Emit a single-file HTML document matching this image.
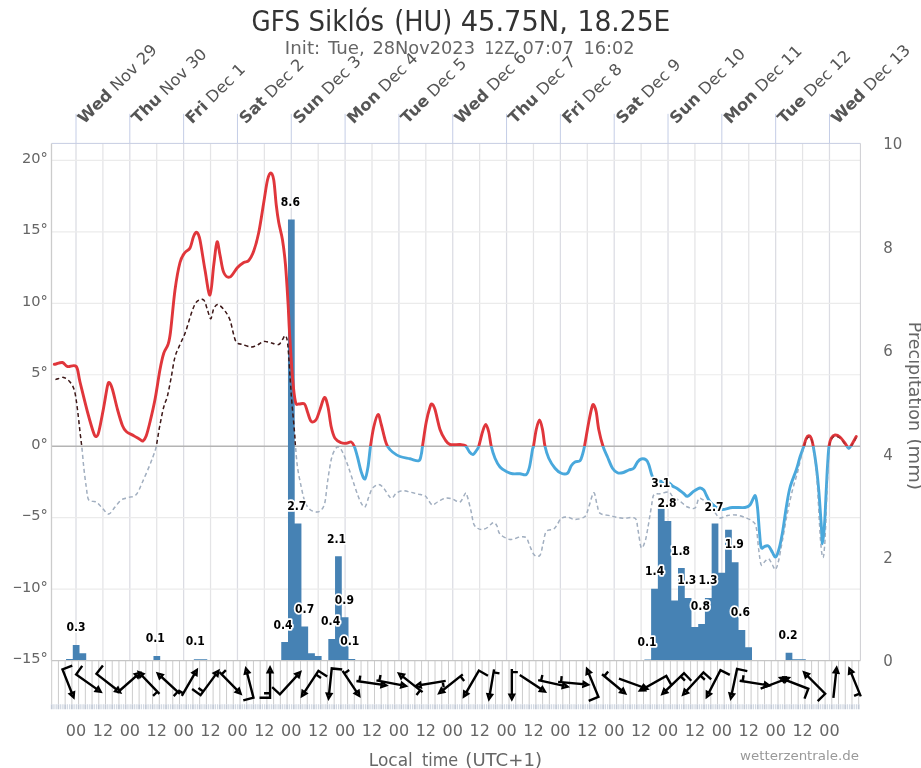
<!DOCTYPE html>
<html lang="en"><head><meta charset="utf-8"><title>GFS Siklós (HU) 45.75N, 18.25E</title>
<style>html,body{margin:0;padding:0;background:#fff}svg{display:block;will-change:transform;font-family:"DejaVu Sans","Liberation Sans",sans-serif}</style>
</head><body>
<svg width="921" height="768" viewBox="0 0 921 768">
<rect width="921" height="768" fill="#ffffff"/>
<defs>
<clipPath id="cpos"><rect x="51.5" y="143.4" width="808.9" height="302.8"/></clipPath>
<clipPath id="cneg"><rect x="51.5" y="446.2" width="808.9" height="214.4"/></clipPath>
<clipPath id="cplot"><rect x="51.5" y="143.4" width="808.9" height="517.2"/></clipPath>
</defs>
<g fill="none"><path d="M76 143.4V660.6" stroke="#dbdce3" stroke-width="1.25"/><path d="M102.91 143.4V660.6" stroke="#e4e4e6" stroke-width="1.25"/><path d="M129.82 143.4V660.6" stroke="#dbdce3" stroke-width="1.25"/><path d="M156.73 143.4V660.6" stroke="#e4e4e6" stroke-width="1.25"/><path d="M183.64 143.4V660.6" stroke="#dbdce3" stroke-width="1.25"/><path d="M210.55 143.4V660.6" stroke="#e4e4e6" stroke-width="1.25"/><path d="M237.46 143.4V660.6" stroke="#dbdce3" stroke-width="1.25"/><path d="M264.37 143.4V660.6" stroke="#e4e4e6" stroke-width="1.25"/><path d="M291.28 143.4V660.6" stroke="#dbdce3" stroke-width="1.25"/><path d="M318.19 143.4V660.6" stroke="#e4e4e6" stroke-width="1.25"/><path d="M345.1 143.4V660.6" stroke="#dbdce3" stroke-width="1.25"/><path d="M372.01 143.4V660.6" stroke="#e4e4e6" stroke-width="1.25"/><path d="M398.92 143.4V660.6" stroke="#dbdce3" stroke-width="1.25"/><path d="M425.83 143.4V660.6" stroke="#e4e4e6" stroke-width="1.25"/><path d="M452.74 143.4V660.6" stroke="#dbdce3" stroke-width="1.25"/><path d="M479.65 143.4V660.6" stroke="#e4e4e6" stroke-width="1.25"/><path d="M506.56 143.4V660.6" stroke="#dbdce3" stroke-width="1.25"/><path d="M533.47 143.4V660.6" stroke="#e4e4e6" stroke-width="1.25"/><path d="M560.38 143.4V660.6" stroke="#dbdce3" stroke-width="1.25"/><path d="M587.29 143.4V660.6" stroke="#e4e4e6" stroke-width="1.25"/><path d="M614.2 143.4V660.6" stroke="#dbdce3" stroke-width="1.25"/><path d="M641.11 143.4V660.6" stroke="#e4e4e6" stroke-width="1.25"/><path d="M668.02 143.4V660.6" stroke="#dbdce3" stroke-width="1.25"/><path d="M694.93 143.4V660.6" stroke="#e4e4e6" stroke-width="1.25"/><path d="M721.84 143.4V660.6" stroke="#dbdce3" stroke-width="1.25"/><path d="M748.75 143.4V660.6" stroke="#e4e4e6" stroke-width="1.25"/><path d="M775.66 143.4V660.6" stroke="#dbdce3" stroke-width="1.25"/><path d="M802.57 143.4V660.6" stroke="#e4e4e6" stroke-width="1.25"/><path d="M829.48 143.4V660.6" stroke="#dbdce3" stroke-width="1.25"/><path d="M51.5 160.4H860.4" stroke="#ebebeb" stroke-width="1.2"/><path d="M51.5 231.85H860.4" stroke="#ebebeb" stroke-width="1.2"/><path d="M51.5 303.3H860.4" stroke="#ebebeb" stroke-width="1.2"/><path d="M51.5 374.75H860.4" stroke="#ebebeb" stroke-width="1.2"/><path d="M51.5 517.65H860.4" stroke="#ebebeb" stroke-width="1.2"/><path d="M51.5 589.1H860.4" stroke="#ebebeb" stroke-width="1.2"/></g>
<path d="M51.5 446.2H860.4" stroke="#b4b4b4" stroke-width="1.6" fill="none"/>
<path d="M76 113.8V143.4M129.82 113.8V143.4M183.64 113.8V143.4M237.46 113.8V143.4M291.28 113.8V143.4M345.1 113.8V143.4M398.92 113.8V143.4M452.74 113.8V143.4M506.56 113.8V143.4M560.38 113.8V143.4M614.2 113.8V143.4M668.02 113.8V143.4M721.84 113.8V143.4M775.66 113.8V143.4M829.48 113.8V143.4" stroke="#c4cde6" stroke-width="1" fill="none"/>
<path d="M51.5 143.4H860.4" stroke="#c6cde2" stroke-width="1" fill="none"/>
<path d="M860.4 143.4V660.6" stroke="#cdcdd2" stroke-width="1" fill="none"/>
<path d="M51.7 660.6V704M58.43 660.6V704M65.15 660.6V704M71.88 660.6V704M78.6 660.6V704M85.33 660.6V704M92.05 660.6V704M98.78 660.6V704M105.5 660.6V704M112.22 660.6V704M118.95 660.6V704M125.67 660.6V704M132.4 660.6V704M139.12 660.6V704M145.85 660.6V704M152.57 660.6V704M159.3 660.6V704M166.03 660.6V704M172.75 660.6V704M179.48 660.6V704M186.2 660.6V704M192.93 660.6V704M199.65 660.6V704M206.38 660.6V704M213.1 660.6V704M219.82 660.6V704M226.55 660.6V704M233.27 660.6V704M240 660.6V704M246.73 660.6V704M253.45 660.6V704M260.18 660.6V704M266.9 660.6V704M273.62 660.6V704M280.35 660.6V704M287.07 660.6V704M293.8 660.6V704M300.53 660.6V704M307.25 660.6V704M313.97 660.6V704M320.7 660.6V704M327.43 660.6V704M334.15 660.6V704M340.88 660.6V704M347.6 660.6V704M354.32 660.6V704M361.05 660.6V704M367.77 660.6V704M374.5 660.6V704M381.22 660.6V704M387.95 660.6V704M394.68 660.6V704M401.4 660.6V704M408.12 660.6V704M414.85 660.6V704M421.57 660.6V704M428.3 660.6V704M435.02 660.6V704M441.75 660.6V704M448.47 660.6V704M455.2 660.6V704M461.93 660.6V704M468.65 660.6V704M475.38 660.6V704M482.1 660.6V704M488.82 660.6V704M495.55 660.6V704M502.27 660.6V704M509 660.6V704M515.73 660.6V704M522.45 660.6V704M529.18 660.6V704M535.9 660.6V704M542.62 660.6V704M549.35 660.6V704M556.08 660.6V704M562.8 660.6V704M569.53 660.6V704M576.25 660.6V704M582.98 660.6V704M589.7 660.6V704M596.43 660.6V704M603.15 660.6V704M609.88 660.6V704M616.6 660.6V704M623.33 660.6V704M630.05 660.6V704M636.78 660.6V704M643.5 660.6V704M650.23 660.6V704M656.95 660.6V704M663.68 660.6V704M670.4 660.6V704M677.12 660.6V704M683.85 660.6V704M690.58 660.6V704M697.3 660.6V704M704.03 660.6V704M710.75 660.6V704M717.48 660.6V704M724.2 660.6V704M730.93 660.6V704M737.65 660.6V704M744.38 660.6V704M751.1 660.6V704M757.83 660.6V704M764.55 660.6V704M771.28 660.6V704M778 660.6V704M784.73 660.6V704M791.45 660.6V704M798.18 660.6V704M804.9 660.6V704M811.62 660.6V704M818.35 660.6V704M825.08 660.6V704M831.8 660.6V704M838.53 660.6V704M845.25 660.6V704M851.98 660.6V704M858.7 660.6V704" stroke="#cccccc" stroke-width="1" fill="none"/>
<path d="M53.94 704.2V709.2M56.18 704.2V709.2M60.67 704.2V709.2M62.91 704.2V709.2M67.39 704.2V709.2M69.63 704.2V709.2M74.12 704.2V709.2M76.36 704.2V709.2M80.84 704.2V709.2M83.08 704.2V709.2M87.57 704.2V709.2M89.81 704.2V709.2M94.29 704.2V709.2M96.53 704.2V709.2M101.02 704.2V709.2M103.26 704.2V709.2M107.74 704.2V709.2M109.98 704.2V709.2M114.47 704.2V709.2M116.71 704.2V709.2M121.19 704.2V709.2M123.43 704.2V709.2M127.92 704.2V709.2M130.16 704.2V709.2M134.64 704.2V709.2M136.88 704.2V709.2M141.37 704.2V709.2M143.61 704.2V709.2M148.09 704.2V709.2M150.33 704.2V709.2M154.82 704.2V709.2M157.06 704.2V709.2M161.54 704.2V709.2M163.78 704.2V709.2M168.27 704.2V709.2M170.51 704.2V709.2M174.99 704.2V709.2M177.23 704.2V709.2M181.72 704.2V709.2M183.96 704.2V709.2M188.44 704.2V709.2M190.68 704.2V709.2M195.17 704.2V709.2M197.41 704.2V709.2M201.89 704.2V709.2M204.13 704.2V709.2M208.62 704.2V709.2M210.86 704.2V709.2M215.34 704.2V709.2M217.58 704.2V709.2M222.07 704.2V709.2M224.31 704.2V709.2M228.79 704.2V709.2M231.03 704.2V709.2M235.52 704.2V709.2M237.76 704.2V709.2M242.24 704.2V709.2M244.48 704.2V709.2M248.97 704.2V709.2M251.21 704.2V709.2M255.69 704.2V709.2M257.93 704.2V709.2M262.42 704.2V709.2M264.66 704.2V709.2M269.14 704.2V709.2M271.38 704.2V709.2M275.87 704.2V709.2M278.11 704.2V709.2M282.59 704.2V709.2M284.83 704.2V709.2M289.32 704.2V709.2M291.56 704.2V709.2M296.04 704.2V709.2M298.28 704.2V709.2M302.77 704.2V709.2M305.01 704.2V709.2M309.49 704.2V709.2M311.73 704.2V709.2M316.22 704.2V709.2M318.46 704.2V709.2M322.94 704.2V709.2M325.18 704.2V709.2M329.67 704.2V709.2M331.91 704.2V709.2M336.39 704.2V709.2M338.63 704.2V709.2M343.12 704.2V709.2M345.36 704.2V709.2M349.84 704.2V709.2M352.08 704.2V709.2M356.57 704.2V709.2M358.81 704.2V709.2M363.29 704.2V709.2M365.53 704.2V709.2M370.02 704.2V709.2M372.26 704.2V709.2M376.74 704.2V709.2M378.98 704.2V709.2M383.47 704.2V709.2M385.71 704.2V709.2M390.19 704.2V709.2M392.43 704.2V709.2M396.92 704.2V709.2M399.16 704.2V709.2M403.64 704.2V709.2M405.88 704.2V709.2M410.37 704.2V709.2M412.61 704.2V709.2M417.09 704.2V709.2M419.33 704.2V709.2M423.82 704.2V709.2M426.06 704.2V709.2M430.54 704.2V709.2M432.78 704.2V709.2M437.27 704.2V709.2M439.51 704.2V709.2M443.99 704.2V709.2M446.23 704.2V709.2M450.72 704.2V709.2M452.96 704.2V709.2M457.44 704.2V709.2M459.68 704.2V709.2M464.17 704.2V709.2M466.41 704.2V709.2M470.89 704.2V709.2M473.13 704.2V709.2M477.62 704.2V709.2M479.86 704.2V709.2M484.34 704.2V709.2M486.58 704.2V709.2M491.07 704.2V709.2M493.31 704.2V709.2M497.79 704.2V709.2M500.03 704.2V709.2M504.52 704.2V709.2M506.76 704.2V709.2M511.24 704.2V709.2M513.48 704.2V709.2M517.97 704.2V709.2M520.21 704.2V709.2M524.69 704.2V709.2M526.93 704.2V709.2M531.42 704.2V709.2M533.66 704.2V709.2M538.14 704.2V709.2M540.38 704.2V709.2M544.87 704.2V709.2M547.11 704.2V709.2M551.59 704.2V709.2M553.83 704.2V709.2M558.32 704.2V709.2M560.56 704.2V709.2M565.04 704.2V709.2M567.28 704.2V709.2M571.77 704.2V709.2M574.01 704.2V709.2M578.49 704.2V709.2M580.73 704.2V709.2M585.22 704.2V709.2M587.46 704.2V709.2M591.94 704.2V709.2M594.18 704.2V709.2M598.67 704.2V709.2M600.91 704.2V709.2M605.39 704.2V709.2M607.63 704.2V709.2M612.12 704.2V709.2M614.36 704.2V709.2M618.84 704.2V709.2M621.08 704.2V709.2M625.57 704.2V709.2M627.81 704.2V709.2M632.29 704.2V709.2M634.53 704.2V709.2M639.02 704.2V709.2M641.26 704.2V709.2M645.74 704.2V709.2M647.98 704.2V709.2M652.47 704.2V709.2M654.71 704.2V709.2M659.19 704.2V709.2M661.43 704.2V709.2M665.92 704.2V709.2M668.16 704.2V709.2M672.64 704.2V709.2M674.88 704.2V709.2M679.37 704.2V709.2M681.61 704.2V709.2M686.09 704.2V709.2M688.33 704.2V709.2M692.82 704.2V709.2M695.06 704.2V709.2M699.54 704.2V709.2M701.78 704.2V709.2M706.27 704.2V709.2M708.51 704.2V709.2M712.99 704.2V709.2M715.23 704.2V709.2M719.72 704.2V709.2M721.96 704.2V709.2M726.44 704.2V709.2M728.68 704.2V709.2M733.17 704.2V709.2M735.41 704.2V709.2M739.89 704.2V709.2M742.13 704.2V709.2M746.62 704.2V709.2M748.86 704.2V709.2M753.34 704.2V709.2M755.58 704.2V709.2M760.07 704.2V709.2M762.31 704.2V709.2M766.79 704.2V709.2M769.03 704.2V709.2M773.52 704.2V709.2M775.76 704.2V709.2M780.24 704.2V709.2M782.48 704.2V709.2M786.97 704.2V709.2M789.21 704.2V709.2M793.69 704.2V709.2M795.93 704.2V709.2M800.42 704.2V709.2M802.66 704.2V709.2M807.14 704.2V709.2M809.38 704.2V709.2M813.87 704.2V709.2M816.11 704.2V709.2M820.59 704.2V709.2M822.83 704.2V709.2M827.32 704.2V709.2M829.56 704.2V709.2M834.04 704.2V709.2M836.28 704.2V709.2M840.77 704.2V709.2M843.01 704.2V709.2M847.49 704.2V709.2M849.73 704.2V709.2M854.22 704.2V709.2M856.46 704.2V709.2" stroke="#d2d9e3" stroke-width="1.3" fill="none"/>
<path d="M51.7 704.2V709.2M58.43 704.2V709.2M65.15 704.2V709.2M71.88 704.2V709.2M78.6 704.2V709.2M85.33 704.2V709.2M92.05 704.2V709.2M98.78 704.2V709.2M105.5 704.2V709.2M112.22 704.2V709.2M118.95 704.2V709.2M125.67 704.2V709.2M132.4 704.2V709.2M139.12 704.2V709.2M145.85 704.2V709.2M152.57 704.2V709.2M159.3 704.2V709.2M166.03 704.2V709.2M172.75 704.2V709.2M179.48 704.2V709.2M186.2 704.2V709.2M192.93 704.2V709.2M199.65 704.2V709.2M206.38 704.2V709.2M213.1 704.2V709.2M219.82 704.2V709.2M226.55 704.2V709.2M233.27 704.2V709.2M240 704.2V709.2M246.73 704.2V709.2M253.45 704.2V709.2M260.18 704.2V709.2M266.9 704.2V709.2M273.62 704.2V709.2M280.35 704.2V709.2M287.07 704.2V709.2M293.8 704.2V709.2M300.53 704.2V709.2M307.25 704.2V709.2M313.97 704.2V709.2M320.7 704.2V709.2M327.43 704.2V709.2M334.15 704.2V709.2M340.88 704.2V709.2M347.6 704.2V709.2M354.32 704.2V709.2M361.05 704.2V709.2M367.77 704.2V709.2M374.5 704.2V709.2M381.22 704.2V709.2M387.95 704.2V709.2M394.68 704.2V709.2M401.4 704.2V709.2M408.12 704.2V709.2M414.85 704.2V709.2M421.57 704.2V709.2M428.3 704.2V709.2M435.02 704.2V709.2M441.75 704.2V709.2M448.47 704.2V709.2M455.2 704.2V709.2M461.93 704.2V709.2M468.65 704.2V709.2M475.38 704.2V709.2M482.1 704.2V709.2M488.82 704.2V709.2M495.55 704.2V709.2M502.27 704.2V709.2M509 704.2V709.2M515.73 704.2V709.2M522.45 704.2V709.2M529.18 704.2V709.2M535.9 704.2V709.2M542.62 704.2V709.2M549.35 704.2V709.2M556.08 704.2V709.2M562.8 704.2V709.2M569.53 704.2V709.2M576.25 704.2V709.2M582.98 704.2V709.2M589.7 704.2V709.2M596.43 704.2V709.2M603.15 704.2V709.2M609.88 704.2V709.2M616.6 704.2V709.2M623.33 704.2V709.2M630.05 704.2V709.2M636.78 704.2V709.2M643.5 704.2V709.2M650.23 704.2V709.2M656.95 704.2V709.2M663.68 704.2V709.2M670.4 704.2V709.2M677.12 704.2V709.2M683.85 704.2V709.2M690.58 704.2V709.2M697.3 704.2V709.2M704.03 704.2V709.2M710.75 704.2V709.2M717.48 704.2V709.2M724.2 704.2V709.2M730.93 704.2V709.2M737.65 704.2V709.2M744.38 704.2V709.2M751.1 704.2V709.2M757.83 704.2V709.2M764.55 704.2V709.2M771.28 704.2V709.2M778 704.2V709.2M784.73 704.2V709.2M791.45 704.2V709.2M798.18 704.2V709.2M804.9 704.2V709.2M811.62 704.2V709.2M818.35 704.2V709.2M825.08 704.2V709.2M831.8 704.2V709.2M838.53 704.2V709.2M845.25 704.2V709.2M851.98 704.2V709.2M858.7 704.2V709.2" stroke="#c3cad6" stroke-width="1.7" fill="none"/>
<path d="M66.05 660.6H72.78V659.05H66.05ZM72.78 660.6H79.5V645.08H72.78ZM79.5 660.6H86.22V653.36H79.5ZM153.47 660.6H160.2V655.95H153.47ZM193.82 660.6H200.55V659.31H193.82ZM200.55 660.6H207.27V659.31H200.55ZM281.25 660.6H287.98V641.98H281.25ZM287.98 660.6H294.7V219.43H287.98ZM294.7 660.6H301.43V523.54H294.7ZM301.43 660.6H308.15V626.46H301.43ZM308.15 660.6H314.88V653.36H308.15ZM314.88 660.6H321.6V655.95H314.88ZM328.32 660.6H335.05V638.88H328.32ZM335.05 660.6H341.78V556.13H335.05ZM341.78 660.6H348.5V617.16H341.78ZM348.5 660.6H355.23V659.05H348.5ZM644.4 660.6H651.12V659.57H644.4ZM651.12 660.6H657.85V588.71H651.12ZM657.85 660.6H664.58V508.54H657.85ZM664.58 660.6H671.3V520.96H664.58ZM671.3 660.6H678.02V600.6H671.3ZM678.02 660.6H684.75V568.02H678.02ZM684.75 660.6H691.48V598.02H684.75ZM691.48 660.6H698.2V626.98H691.48ZM698.2 660.6H704.92V623.88H698.2ZM704.92 660.6H711.65V598.02H704.92ZM711.65 660.6H718.38V523.54H711.65ZM718.38 660.6H725.1V572.68H718.38ZM725.1 660.6H731.82V529.75H725.1ZM731.82 660.6H738.55V562.33H731.82ZM738.55 660.6H745.27V630.09H738.55ZM745.27 660.6H752V647.15H745.27ZM785.62 660.6H792.35V652.84H785.62ZM792.35 660.6H799.07V659.31H792.35ZM799.07 660.6H805.8V659.31H799.07Z" fill="#4682b4"/>
<path d="M51.5 143.4V660.6" stroke="#cccccc" stroke-width="1.3" fill="none"/>
<path d="M51.5 660.6H860.4" stroke="#c6c6c6" stroke-width="1.4" fill="none"/>
<g fill="none" stroke-width="1.4" stroke-dasharray="4,3">
<path d="M55.5 379.6C55.92 379.47 56.62 379.15 58 378.8C59.38 378.45 61.75 376.97 63.75 377.5C65.75 378.03 68.21 379.79 70 382C71.79 384.21 73.25 386.17 74.5 390.75C75.75 395.33 76.58 402.62 77.5 409.5C78.42 416.38 79.29 425.88 80 432C80.71 438.12 81.12 440.42 81.75 446.25C82.38 452.08 83 460.21 83.75 467C84.5 473.79 85.42 481.5 86.25 487C87.08 492.5 87.08 497.5 88.75 500C90.42 502.5 93.96 500.62 96.25 502C98.54 503.38 100.42 506.25 102.5 508.25C104.58 510.25 106.67 514.21 108.75 514C110.83 513.79 112.92 509.33 115 507C117.08 504.67 118.96 501.58 121.25 500C123.54 498.42 126.25 498.42 128.75 497.5C131.25 496.58 133.96 497.08 136.25 494.5C138.54 491.92 140.21 487 142.5 482C144.79 477 148.12 469.08 150 464.5C151.88 459.92 152.71 457.54 153.75 454.5C154.79 451.46 155.21 451.25 156.25 446.25C157.29 441.25 158.75 431.04 160 424.5C161.25 417.96 162.5 411.79 163.75 407C165 402.21 166.25 400.75 167.5 395.75C168.75 390.75 170 383.46 171.25 377C172.5 370.54 173.54 362.42 175 357C176.46 351.58 178.25 348.67 180 344.5C181.75 340.33 183.42 337.75 185.5 332C187.58 326.25 190.5 315.17 192.5 310C194.5 304.83 195.62 302.67 197.5 301C199.38 299.33 202.08 298.5 203.75 300C205.42 301.5 206.33 306.88 207.5 310C208.67 313.12 209.71 318.96 210.75 318.75C211.79 318.54 212.54 311.12 213.75 308.75C214.96 306.38 216.12 304.12 218 304.5C219.88 304.88 223 308.42 225 311C227 313.58 228.67 316.5 230 320C231.33 323.5 231.96 328.33 233 332C234.04 335.67 234.67 339.92 236.25 342C237.83 344.08 240 343.67 242.5 344.5C245 345.33 248.75 346.92 251.25 347C253.75 347.08 255.42 345.92 257.5 345C259.58 344.08 261.67 341.92 263.75 341.5C265.83 341.08 268.54 342.21 270 342.5C271.46 342.79 271.04 342.92 272.5 343.25C273.96 343.58 277.08 345.12 278.75 344.5C280.42 343.88 281.38 340.96 282.5 339.5C283.62 338.04 284.58 334.5 285.5 335.75C286.42 337 287.04 337.21 288 347C288.96 356.79 290.17 380.33 291.25 394.5C292.33 408.67 293.79 423.38 294.5 432C295.21 440.62 295 440.42 295.5 446.25C296 452.08 296.54 460.21 297.5 467C298.46 473.79 300 481.17 301.25 487C302.5 492.83 303.54 498.25 305 502C306.46 505.75 308.12 507.83 310 509.5C311.88 511.17 314.38 511.92 316.25 512C318.12 512.08 319.79 511.67 321.25 510C322.71 508.33 323.96 506.67 325 502C326.04 497.33 326.46 489.08 327.5 482C328.54 474.92 330 464.92 331.25 459.5C332.5 454.08 333.75 451.58 335 449.5C336.25 447.42 337.5 446.58 338.75 447C340 447.42 341.04 449.08 342.5 452C343.96 454.92 345.83 459.92 347.5 464.5C349.17 469.08 350.83 474.5 352.5 479.5C354.17 484.5 356.04 490.54 357.5 494.5C358.96 498.46 360 501.17 361.25 503.25C362.5 505.33 363.75 508.04 365 507C366.25 505.96 367.5 500.12 368.75 497C370 493.88 370.83 490.33 372.5 488.25C374.17 486.17 376.88 484.5 378.75 484.5C380.62 484.5 382.08 486.38 383.75 488.25C385.42 490.12 387.38 494.08 388.75 495.75C390.12 497.42 390.75 498.67 392 498.25C393.25 497.83 394.5 494.5 396.25 493.25C398 492 400.21 490.96 402.5 490.75C404.79 490.54 407.5 491.46 410 492C412.5 492.54 415 493.38 417.5 494C420 494.62 423.12 494.62 425 495.75C426.88 496.88 427.5 499.21 428.75 500.75C430 502.29 431.04 504.79 432.5 505C433.96 505.21 435.42 503.12 437.5 502C439.58 500.88 442.5 498.75 445 498.25C447.5 497.75 450 498.38 452.5 499C455 499.62 457.83 502.96 460 502C462.17 501.04 464.25 494.08 465.5 493.25C466.75 492.42 466.54 493.88 467.5 497C468.46 500.12 470.21 507.5 471.25 512C472.29 516.5 472.62 521.25 473.75 524C474.88 526.75 476.54 527.58 478 528.5C479.46 529.42 480.92 529.67 482.5 529.5C484.08 529.33 486.04 528.42 487.5 527.5C488.96 526.58 490.17 524.83 491.25 524C492.33 523.17 493.04 522.17 494 522.5C494.96 522.83 496 524.08 497 526C498 527.92 497.83 531.75 500 534C502.17 536.25 506.67 539 510 539.5C513.33 540 517.29 537.29 520 537C522.71 536.71 524.58 536.17 526.25 537.75C527.92 539.33 528.62 543.58 530 546.5C531.38 549.42 532.83 553.79 534.5 555.25C536.17 556.71 538.58 557.12 540 555.25C541.42 553.38 541.96 547.96 543 544C544.04 540.04 544.46 534 546.25 531.5C548.04 529 551.88 530.25 553.75 529C555.62 527.75 556.25 525.79 557.5 524C558.75 522.21 559.58 519.42 561.25 518.25C562.92 517.08 565.21 516.79 567.5 517C569.79 517.21 572.08 519.58 575 519.5C577.92 519.42 582.71 518.58 585 516.5C587.29 514.42 587.29 510.96 588.75 507C590.21 503.04 592.38 493.17 593.75 492.75C595.12 492.33 595.96 501.08 597 504.5C598.04 507.92 597.83 511.38 600 513.25C602.17 515.12 606.25 514.92 610 515.75C613.75 516.58 618.33 517.83 622.5 518.25C626.67 518.67 632.42 516.29 635 518.25C637.58 520.21 636.96 525.08 638 530C639.04 534.92 640.08 545.83 641.25 547.75C642.42 549.67 643.96 544.46 645 541.5C646.04 538.54 646.46 535.67 647.5 530C648.54 524.33 650.21 513.33 651.25 507.5C652.29 501.67 652.29 497.29 653.75 495C655.21 492.71 657.5 494.25 660 493.75C662.5 493.25 666.67 491.58 668.75 492C670.83 492.42 670.62 494.71 672.5 496.25C674.38 497.79 677.5 499.46 680 501.25C682.5 503.04 685 505.88 687.5 507C690 508.12 693.12 509.38 695 508C696.88 506.62 697.5 500.17 698.75 498.75C700 497.33 700.83 498.67 702.5 499.5C704.17 500.33 706.67 501.58 708.75 503.75C710.83 505.92 713.12 510.12 715 512.5C716.88 514.88 717.92 517.5 720 518C722.08 518.5 724.79 516 727.5 515.5C730.21 515 733.33 514.67 736.25 515C739.17 515.33 742.29 516.46 745 517.5C747.71 518.54 750.62 519.58 752.5 521.25C754.38 522.92 755.21 522.71 756.25 527.5C757.29 532.29 757.92 543.75 758.75 550C759.58 556.25 760.21 563.12 761.25 565C762.29 566.88 763.75 562.29 765 561.25C766.25 560.21 767.5 558.12 768.75 558.75C770 559.38 771.38 563.21 772.5 565C773.62 566.79 774.46 570.33 775.5 569.5C776.54 568.67 777.58 564.92 778.75 560C779.92 555.08 781.04 547.92 782.5 540C783.96 532.08 785.83 520.83 787.5 512.5C789.17 504.17 790.83 496.67 792.5 490C794.17 483.33 796.17 477.58 797.5 472.5C798.83 467.42 799.42 463.75 800.5 459.5C801.58 455.25 803 450.33 804 447C805 443.67 805.71 441.17 806.5 439.5C807.29 437.83 807.92 437 808.75 437C809.58 437 810.67 437.33 811.5 439.5C812.33 441.67 812.83 443.25 813.75 450C814.67 456.75 815.88 465 817 480C818.12 495 819.5 527.08 820.5 540C821.5 552.92 822.25 557.5 823 557.5C823.75 557.5 824.33 551.25 825 540C825.67 528.75 826.33 505 827 490C827.67 475 828.29 458.42 829 450C829.71 441.58 830.25 441.83 831.25 439.5C832.25 437.17 833.54 436.25 835 436C836.46 435.75 838.33 436.67 840 438C841.67 439.33 843.54 442.17 845 444C846.46 445.83 847.5 449 848.75 449C850 449 851.25 445.92 852.5 444C853.75 442.08 855.62 438.58 856.25 437.5" stroke="#3c1717" clip-path="url(#cpos)"/>
<path d="M55.5 379.6C55.92 379.47 56.62 379.15 58 378.8C59.38 378.45 61.75 376.97 63.75 377.5C65.75 378.03 68.21 379.79 70 382C71.79 384.21 73.25 386.17 74.5 390.75C75.75 395.33 76.58 402.62 77.5 409.5C78.42 416.38 79.29 425.88 80 432C80.71 438.12 81.12 440.42 81.75 446.25C82.38 452.08 83 460.21 83.75 467C84.5 473.79 85.42 481.5 86.25 487C87.08 492.5 87.08 497.5 88.75 500C90.42 502.5 93.96 500.62 96.25 502C98.54 503.38 100.42 506.25 102.5 508.25C104.58 510.25 106.67 514.21 108.75 514C110.83 513.79 112.92 509.33 115 507C117.08 504.67 118.96 501.58 121.25 500C123.54 498.42 126.25 498.42 128.75 497.5C131.25 496.58 133.96 497.08 136.25 494.5C138.54 491.92 140.21 487 142.5 482C144.79 477 148.12 469.08 150 464.5C151.88 459.92 152.71 457.54 153.75 454.5C154.79 451.46 155.21 451.25 156.25 446.25C157.29 441.25 158.75 431.04 160 424.5C161.25 417.96 162.5 411.79 163.75 407C165 402.21 166.25 400.75 167.5 395.75C168.75 390.75 170 383.46 171.25 377C172.5 370.54 173.54 362.42 175 357C176.46 351.58 178.25 348.67 180 344.5C181.75 340.33 183.42 337.75 185.5 332C187.58 326.25 190.5 315.17 192.5 310C194.5 304.83 195.62 302.67 197.5 301C199.38 299.33 202.08 298.5 203.75 300C205.42 301.5 206.33 306.88 207.5 310C208.67 313.12 209.71 318.96 210.75 318.75C211.79 318.54 212.54 311.12 213.75 308.75C214.96 306.38 216.12 304.12 218 304.5C219.88 304.88 223 308.42 225 311C227 313.58 228.67 316.5 230 320C231.33 323.5 231.96 328.33 233 332C234.04 335.67 234.67 339.92 236.25 342C237.83 344.08 240 343.67 242.5 344.5C245 345.33 248.75 346.92 251.25 347C253.75 347.08 255.42 345.92 257.5 345C259.58 344.08 261.67 341.92 263.75 341.5C265.83 341.08 268.54 342.21 270 342.5C271.46 342.79 271.04 342.92 272.5 343.25C273.96 343.58 277.08 345.12 278.75 344.5C280.42 343.88 281.38 340.96 282.5 339.5C283.62 338.04 284.58 334.5 285.5 335.75C286.42 337 287.04 337.21 288 347C288.96 356.79 290.17 380.33 291.25 394.5C292.33 408.67 293.79 423.38 294.5 432C295.21 440.62 295 440.42 295.5 446.25C296 452.08 296.54 460.21 297.5 467C298.46 473.79 300 481.17 301.25 487C302.5 492.83 303.54 498.25 305 502C306.46 505.75 308.12 507.83 310 509.5C311.88 511.17 314.38 511.92 316.25 512C318.12 512.08 319.79 511.67 321.25 510C322.71 508.33 323.96 506.67 325 502C326.04 497.33 326.46 489.08 327.5 482C328.54 474.92 330 464.92 331.25 459.5C332.5 454.08 333.75 451.58 335 449.5C336.25 447.42 337.5 446.58 338.75 447C340 447.42 341.04 449.08 342.5 452C343.96 454.92 345.83 459.92 347.5 464.5C349.17 469.08 350.83 474.5 352.5 479.5C354.17 484.5 356.04 490.54 357.5 494.5C358.96 498.46 360 501.17 361.25 503.25C362.5 505.33 363.75 508.04 365 507C366.25 505.96 367.5 500.12 368.75 497C370 493.88 370.83 490.33 372.5 488.25C374.17 486.17 376.88 484.5 378.75 484.5C380.62 484.5 382.08 486.38 383.75 488.25C385.42 490.12 387.38 494.08 388.75 495.75C390.12 497.42 390.75 498.67 392 498.25C393.25 497.83 394.5 494.5 396.25 493.25C398 492 400.21 490.96 402.5 490.75C404.79 490.54 407.5 491.46 410 492C412.5 492.54 415 493.38 417.5 494C420 494.62 423.12 494.62 425 495.75C426.88 496.88 427.5 499.21 428.75 500.75C430 502.29 431.04 504.79 432.5 505C433.96 505.21 435.42 503.12 437.5 502C439.58 500.88 442.5 498.75 445 498.25C447.5 497.75 450 498.38 452.5 499C455 499.62 457.83 502.96 460 502C462.17 501.04 464.25 494.08 465.5 493.25C466.75 492.42 466.54 493.88 467.5 497C468.46 500.12 470.21 507.5 471.25 512C472.29 516.5 472.62 521.25 473.75 524C474.88 526.75 476.54 527.58 478 528.5C479.46 529.42 480.92 529.67 482.5 529.5C484.08 529.33 486.04 528.42 487.5 527.5C488.96 526.58 490.17 524.83 491.25 524C492.33 523.17 493.04 522.17 494 522.5C494.96 522.83 496 524.08 497 526C498 527.92 497.83 531.75 500 534C502.17 536.25 506.67 539 510 539.5C513.33 540 517.29 537.29 520 537C522.71 536.71 524.58 536.17 526.25 537.75C527.92 539.33 528.62 543.58 530 546.5C531.38 549.42 532.83 553.79 534.5 555.25C536.17 556.71 538.58 557.12 540 555.25C541.42 553.38 541.96 547.96 543 544C544.04 540.04 544.46 534 546.25 531.5C548.04 529 551.88 530.25 553.75 529C555.62 527.75 556.25 525.79 557.5 524C558.75 522.21 559.58 519.42 561.25 518.25C562.92 517.08 565.21 516.79 567.5 517C569.79 517.21 572.08 519.58 575 519.5C577.92 519.42 582.71 518.58 585 516.5C587.29 514.42 587.29 510.96 588.75 507C590.21 503.04 592.38 493.17 593.75 492.75C595.12 492.33 595.96 501.08 597 504.5C598.04 507.92 597.83 511.38 600 513.25C602.17 515.12 606.25 514.92 610 515.75C613.75 516.58 618.33 517.83 622.5 518.25C626.67 518.67 632.42 516.29 635 518.25C637.58 520.21 636.96 525.08 638 530C639.04 534.92 640.08 545.83 641.25 547.75C642.42 549.67 643.96 544.46 645 541.5C646.04 538.54 646.46 535.67 647.5 530C648.54 524.33 650.21 513.33 651.25 507.5C652.29 501.67 652.29 497.29 653.75 495C655.21 492.71 657.5 494.25 660 493.75C662.5 493.25 666.67 491.58 668.75 492C670.83 492.42 670.62 494.71 672.5 496.25C674.38 497.79 677.5 499.46 680 501.25C682.5 503.04 685 505.88 687.5 507C690 508.12 693.12 509.38 695 508C696.88 506.62 697.5 500.17 698.75 498.75C700 497.33 700.83 498.67 702.5 499.5C704.17 500.33 706.67 501.58 708.75 503.75C710.83 505.92 713.12 510.12 715 512.5C716.88 514.88 717.92 517.5 720 518C722.08 518.5 724.79 516 727.5 515.5C730.21 515 733.33 514.67 736.25 515C739.17 515.33 742.29 516.46 745 517.5C747.71 518.54 750.62 519.58 752.5 521.25C754.38 522.92 755.21 522.71 756.25 527.5C757.29 532.29 757.92 543.75 758.75 550C759.58 556.25 760.21 563.12 761.25 565C762.29 566.88 763.75 562.29 765 561.25C766.25 560.21 767.5 558.12 768.75 558.75C770 559.38 771.38 563.21 772.5 565C773.62 566.79 774.46 570.33 775.5 569.5C776.54 568.67 777.58 564.92 778.75 560C779.92 555.08 781.04 547.92 782.5 540C783.96 532.08 785.83 520.83 787.5 512.5C789.17 504.17 790.83 496.67 792.5 490C794.17 483.33 796.17 477.58 797.5 472.5C798.83 467.42 799.42 463.75 800.5 459.5C801.58 455.25 803 450.33 804 447C805 443.67 805.71 441.17 806.5 439.5C807.29 437.83 807.92 437 808.75 437C809.58 437 810.67 437.33 811.5 439.5C812.33 441.67 812.83 443.25 813.75 450C814.67 456.75 815.88 465 817 480C818.12 495 819.5 527.08 820.5 540C821.5 552.92 822.25 557.5 823 557.5C823.75 557.5 824.33 551.25 825 540C825.67 528.75 826.33 505 827 490C827.67 475 828.29 458.42 829 450C829.71 441.58 830.25 441.83 831.25 439.5C832.25 437.17 833.54 436.25 835 436C836.46 435.75 838.33 436.67 840 438C841.67 439.33 843.54 442.17 845 444C846.46 445.83 847.5 449 848.75 449C850 449 851.25 445.92 852.5 444C853.75 442.08 855.62 438.58 856.25 437.5" stroke="#a2afc0" clip-path="url(#cneg)"/>
</g>
<g fill="none" stroke-width="2.9" stroke-linejoin="round" stroke-linecap="round">
<path d="M54.3 364.3C54.58 364.25 54.63 364.3 56 364C57.37 363.7 60.58 362.08 62.5 362.5C64.42 362.92 65.21 365.83 67.5 366.5C69.79 367.17 74.17 363.92 76.25 366.5C78.33 369.08 78.12 374.42 80 382C81.88 389.58 85.21 403.46 87.5 412C89.79 420.54 92.29 429.17 93.75 433.25C95.21 437.33 95.42 436.71 96.25 436.5C97.08 436.29 97.5 436.92 98.75 432C100 427.08 102.29 414.71 103.75 407C105.21 399.29 106.54 389.79 107.5 385.75C108.46 381.71 108.67 382.12 109.5 382.75C110.33 383.38 111.17 385.04 112.5 389.5C113.83 393.96 115.83 403.46 117.5 409.5C119.17 415.54 121.04 422.08 122.5 425.75C123.96 429.42 124.38 429.83 126.25 431.5C128.12 433.17 131.46 434.42 133.75 435.75C136.04 437.08 138.46 438.62 140 439.5C141.54 440.38 141.96 441.62 143 441C144.04 440.38 145.08 438.92 146.25 435.75C147.42 432.58 148.54 428.04 150 422C151.46 415.96 153.33 408.25 155 399.5C156.67 390.75 158.54 377.21 160 369.5C161.46 361.79 162.42 357.42 163.75 353.25C165.08 349.08 166.88 348.04 168 344.5C169.12 340.96 169.33 341.08 170.5 332C171.67 322.92 173.42 301.58 175 290C176.58 278.42 178.33 268.75 180 262.5C181.67 256.25 183.33 254.92 185 252.5C186.67 250.08 188.54 250.75 190 248C191.46 245.25 192.58 238.58 193.75 236C194.92 233.42 195.96 231.83 197 232.5C198.04 233.17 198.67 233.75 200 240C201.33 246.25 203.33 260.83 205 270C206.67 279.17 208.54 295.83 210 295C211.46 294.17 212.58 273.83 213.75 265C214.92 256.17 215.96 243.67 217 242C218.04 240.33 218.88 249.92 220 255C221.12 260.08 222.08 268.83 223.75 272.5C225.42 276.17 227.71 277.83 230 277C232.29 276.17 235.21 269.92 237.5 267.5C239.79 265.08 241.88 263.67 243.75 262.5C245.62 261.33 247.08 262.42 248.75 260.5C250.42 258.58 252.08 255.67 253.75 251C255.42 246.33 257.08 240.58 258.75 232.5C260.42 224.42 262.29 211.25 263.75 202.5C265.21 193.75 266.33 184.92 267.5 180C268.67 175.08 269.71 173 270.75 173C271.79 173 272.83 174.67 273.75 180C274.67 185.33 275.42 197.92 276.25 205C277.08 212.08 277.71 216.67 278.75 222.5C279.79 228.33 281.38 232.92 282.5 240C283.62 247.08 284.58 254.58 285.5 265C286.42 275.42 287.33 291.33 288 302.5C288.67 313.67 288.75 319.58 289.5 332C290.25 344.42 291.5 365.33 292.5 377C293.5 388.67 294.46 397.5 295.5 402C296.54 406.5 297.25 403.67 298.75 404C300.25 404.33 303.04 402.67 304.5 404C305.96 405.33 306.38 409.08 307.5 412C308.62 414.92 309.79 420.25 311.25 421.5C312.71 422.75 314.79 421.5 316.25 419.5C317.71 417.5 318.62 413.17 320 409.5C321.38 405.83 323.17 397.92 324.5 397.5C325.83 397.08 326.88 402.08 328 407C329.12 411.92 330.08 421.79 331.25 427C332.42 432.21 333.33 435.62 335 438.25C336.67 440.88 339.38 441.92 341.25 442.75C343.12 443.58 344.58 443.38 346.25 443.25C347.92 443.12 349.92 441.5 351.25 442C352.58 442.5 353.21 443.75 354.25 446.25C355.29 448.75 356.33 452.71 357.5 457C358.67 461.29 360 468.33 361.25 472C362.5 475.67 363.88 479.83 365 479C366.12 478.17 367.08 472.46 368 467C368.92 461.54 369.54 452.92 370.5 446.25C371.46 439.58 372.5 432.29 373.75 427C375 421.71 376.75 414.92 378 414.5C379.25 414.08 380.08 420.33 381.25 424.5C382.42 428.67 383.96 435.88 385 439.5C386.04 443.12 386.25 444.17 387.5 446.25C388.75 448.33 390.42 450.29 392.5 452C394.58 453.71 397.08 455.38 400 456.5C402.92 457.62 406.88 458.04 410 458.75C413.12 459.46 416.88 461.46 418.75 460.75C420.62 460.04 420.62 456.92 421.25 454.5C421.88 452.08 421.67 451.67 422.5 446.25C423.33 440.83 425 428.54 426.25 422C427.5 415.46 429.04 410 430 407C430.96 404 431.17 403.58 432 404C432.83 404.42 433.67 405.25 435 409.5C436.33 413.75 438.33 424.5 440 429.5C441.67 434.5 443.33 437 445 439.5C446.67 442 447.5 443.67 450 444.5C452.5 445.33 457.42 444.29 460 444.5C462.58 444.71 463.92 444.5 465.5 445.75C467.08 447 468.25 450.54 469.5 452C470.75 453.46 471.88 454.71 473 454.5C474.12 454.29 475.29 452.12 476.25 450.75C477.21 449.38 477.71 449.38 478.75 446.25C479.79 443.12 481.33 435.62 482.5 432C483.67 428.38 484.71 424.5 485.75 424.5C486.79 424.5 487.83 428.38 488.75 432C489.67 435.62 490.21 441.88 491.25 446.25C492.29 450.62 493.54 454.79 495 458.25C496.46 461.71 498.12 464.79 500 467C501.88 469.21 504.17 470.38 506.25 471.5C508.33 472.62 510.21 473.38 512.5 473.75C514.79 474.12 517.71 473.62 520 473.75C522.29 473.88 524.67 475.62 526.25 474.5C527.83 473.38 528.46 471.17 529.5 467C530.54 462.83 531.83 452.96 532.5 449.5C533.17 446.04 532.88 449.58 533.5 446.25C534.12 442.92 535.25 433.88 536.25 429.5C537.25 425.12 538.46 420 539.5 420C540.54 420 541.58 425.12 542.5 429.5C543.42 433.88 543.96 441.46 545 446.25C546.04 451.04 547.08 454.58 548.75 458.25C550.42 461.92 552.92 465.75 555 468.25C557.08 470.75 559.17 472.42 561.25 473.25C563.33 474.08 565.83 474.5 567.5 473.25C569.17 472 570 467.62 571.25 465.75C572.5 463.88 573.54 462.83 575 462C576.46 461.17 578.75 462 580 460.75C581.25 459.5 581.75 456.92 582.5 454.5C583.25 452.08 583.46 451.67 584.5 446.25C585.54 440.83 587.5 428.54 588.75 422C590 415.46 591.17 409.83 592 407C592.83 404.17 593.04 404.17 593.75 405C594.46 405.83 595.42 407.92 596.25 412C597.08 416.08 597.62 423.79 598.75 429.5C599.88 435.21 601.54 441.67 603 446.25C604.46 450.83 605.92 453.33 607.5 457C609.08 460.67 610.83 465.62 612.5 468.25C614.17 470.88 615.83 472 617.5 472.75C619.17 473.5 620.62 473.21 622.5 472.75C624.38 472.29 626.88 470.75 628.75 470C630.62 469.25 632.29 469.58 633.75 468.25C635.21 466.92 636.25 463.54 637.5 462C638.75 460.46 639.79 459.33 641.25 459C642.71 458.67 645 459.08 646.25 460C647.5 460.92 647.92 462.29 648.75 464.5C649.58 466.71 650.42 470.75 651.25 473.25C652.08 475.75 652.79 478.21 653.75 479.5C654.71 480.79 655.62 480.67 657 481C658.38 481.33 660.04 481.25 662 481.5C663.96 481.75 667 481.75 668.75 482.5C670.5 483.25 671.04 484.96 672.5 486C673.96 487.04 675.62 487.5 677.5 488.75C679.38 490 682.08 492.25 683.75 493.5C685.42 494.75 685.83 496.62 687.5 496.25C689.17 495.88 691.67 492.62 693.75 491.25C695.83 489.88 698.33 488.21 700 488C701.67 487.79 702.71 488.83 703.75 490C704.79 491.17 705.21 493 706.25 495C707.29 497 708.38 500 710 502C711.62 504 713.92 505.75 716 507C718.08 508.25 719.75 509.42 722.5 509.5C725.25 509.58 728.75 507.83 732.5 507.5C736.25 507.17 742.08 507.92 745 507.5C747.92 507.08 748.54 506.67 750 505C751.46 503.33 752.83 498.96 753.75 497.5C754.67 496.04 754.88 494.58 755.5 496.25C756.12 497.92 756.83 501.46 757.5 507.5C758.17 513.54 758.88 525.83 759.5 532.5C760.12 539.17 760.33 545.21 761.25 547.5C762.17 549.79 763.75 546.46 765 546.25C766.25 546.04 767.5 545.21 768.75 546.25C770 547.29 771.38 550.71 772.5 552.5C773.62 554.29 774.46 557.42 775.5 557C776.54 556.58 777.58 554.08 778.75 550C779.92 545.92 781.25 539.58 782.5 532.5C783.75 525.42 785 515 786.25 507.5C787.5 500 788.33 493.75 790 487.5C791.67 481.25 794.58 475.08 796.25 470C797.92 464.92 798.75 460.96 800 457C801.25 453.04 802.71 449.38 803.75 446.25C804.79 443.12 805.42 440 806.25 438.25C807.08 436.5 807.92 435.75 808.75 435.75C809.58 435.75 810.5 436.5 811.25 438.25C812 440 812.42 441.62 813.25 446.25C814.08 450.88 815.33 458.71 816.25 466C817.17 473.29 817.92 480.17 818.75 490C819.58 499.83 820.62 516.04 821.25 525C821.88 533.96 821.96 543.75 822.5 543.75C823.04 543.75 823.88 533.96 824.5 525C825.12 516.04 825.75 499.83 826.25 490C826.75 480.17 827.04 473.29 827.5 466C827.96 458.71 828.38 450.88 829 446.25C829.62 441.62 830.25 440.12 831.25 438.25C832.25 436.38 833.54 435.21 835 435C836.46 434.79 838.33 435.62 840 437C841.67 438.38 843.54 441.38 845 443.25C846.46 445.12 847.5 448.25 848.75 448.25C850 448.25 851.25 445.21 852.5 443.25C853.75 441.29 855.62 437.62 856.25 436.5" stroke="#e0363b" clip-path="url(#cpos)"/>
<path d="M54.3 364.3C54.58 364.25 54.63 364.3 56 364C57.37 363.7 60.58 362.08 62.5 362.5C64.42 362.92 65.21 365.83 67.5 366.5C69.79 367.17 74.17 363.92 76.25 366.5C78.33 369.08 78.12 374.42 80 382C81.88 389.58 85.21 403.46 87.5 412C89.79 420.54 92.29 429.17 93.75 433.25C95.21 437.33 95.42 436.71 96.25 436.5C97.08 436.29 97.5 436.92 98.75 432C100 427.08 102.29 414.71 103.75 407C105.21 399.29 106.54 389.79 107.5 385.75C108.46 381.71 108.67 382.12 109.5 382.75C110.33 383.38 111.17 385.04 112.5 389.5C113.83 393.96 115.83 403.46 117.5 409.5C119.17 415.54 121.04 422.08 122.5 425.75C123.96 429.42 124.38 429.83 126.25 431.5C128.12 433.17 131.46 434.42 133.75 435.75C136.04 437.08 138.46 438.62 140 439.5C141.54 440.38 141.96 441.62 143 441C144.04 440.38 145.08 438.92 146.25 435.75C147.42 432.58 148.54 428.04 150 422C151.46 415.96 153.33 408.25 155 399.5C156.67 390.75 158.54 377.21 160 369.5C161.46 361.79 162.42 357.42 163.75 353.25C165.08 349.08 166.88 348.04 168 344.5C169.12 340.96 169.33 341.08 170.5 332C171.67 322.92 173.42 301.58 175 290C176.58 278.42 178.33 268.75 180 262.5C181.67 256.25 183.33 254.92 185 252.5C186.67 250.08 188.54 250.75 190 248C191.46 245.25 192.58 238.58 193.75 236C194.92 233.42 195.96 231.83 197 232.5C198.04 233.17 198.67 233.75 200 240C201.33 246.25 203.33 260.83 205 270C206.67 279.17 208.54 295.83 210 295C211.46 294.17 212.58 273.83 213.75 265C214.92 256.17 215.96 243.67 217 242C218.04 240.33 218.88 249.92 220 255C221.12 260.08 222.08 268.83 223.75 272.5C225.42 276.17 227.71 277.83 230 277C232.29 276.17 235.21 269.92 237.5 267.5C239.79 265.08 241.88 263.67 243.75 262.5C245.62 261.33 247.08 262.42 248.75 260.5C250.42 258.58 252.08 255.67 253.75 251C255.42 246.33 257.08 240.58 258.75 232.5C260.42 224.42 262.29 211.25 263.75 202.5C265.21 193.75 266.33 184.92 267.5 180C268.67 175.08 269.71 173 270.75 173C271.79 173 272.83 174.67 273.75 180C274.67 185.33 275.42 197.92 276.25 205C277.08 212.08 277.71 216.67 278.75 222.5C279.79 228.33 281.38 232.92 282.5 240C283.62 247.08 284.58 254.58 285.5 265C286.42 275.42 287.33 291.33 288 302.5C288.67 313.67 288.75 319.58 289.5 332C290.25 344.42 291.5 365.33 292.5 377C293.5 388.67 294.46 397.5 295.5 402C296.54 406.5 297.25 403.67 298.75 404C300.25 404.33 303.04 402.67 304.5 404C305.96 405.33 306.38 409.08 307.5 412C308.62 414.92 309.79 420.25 311.25 421.5C312.71 422.75 314.79 421.5 316.25 419.5C317.71 417.5 318.62 413.17 320 409.5C321.38 405.83 323.17 397.92 324.5 397.5C325.83 397.08 326.88 402.08 328 407C329.12 411.92 330.08 421.79 331.25 427C332.42 432.21 333.33 435.62 335 438.25C336.67 440.88 339.38 441.92 341.25 442.75C343.12 443.58 344.58 443.38 346.25 443.25C347.92 443.12 349.92 441.5 351.25 442C352.58 442.5 353.21 443.75 354.25 446.25C355.29 448.75 356.33 452.71 357.5 457C358.67 461.29 360 468.33 361.25 472C362.5 475.67 363.88 479.83 365 479C366.12 478.17 367.08 472.46 368 467C368.92 461.54 369.54 452.92 370.5 446.25C371.46 439.58 372.5 432.29 373.75 427C375 421.71 376.75 414.92 378 414.5C379.25 414.08 380.08 420.33 381.25 424.5C382.42 428.67 383.96 435.88 385 439.5C386.04 443.12 386.25 444.17 387.5 446.25C388.75 448.33 390.42 450.29 392.5 452C394.58 453.71 397.08 455.38 400 456.5C402.92 457.62 406.88 458.04 410 458.75C413.12 459.46 416.88 461.46 418.75 460.75C420.62 460.04 420.62 456.92 421.25 454.5C421.88 452.08 421.67 451.67 422.5 446.25C423.33 440.83 425 428.54 426.25 422C427.5 415.46 429.04 410 430 407C430.96 404 431.17 403.58 432 404C432.83 404.42 433.67 405.25 435 409.5C436.33 413.75 438.33 424.5 440 429.5C441.67 434.5 443.33 437 445 439.5C446.67 442 447.5 443.67 450 444.5C452.5 445.33 457.42 444.29 460 444.5C462.58 444.71 463.92 444.5 465.5 445.75C467.08 447 468.25 450.54 469.5 452C470.75 453.46 471.88 454.71 473 454.5C474.12 454.29 475.29 452.12 476.25 450.75C477.21 449.38 477.71 449.38 478.75 446.25C479.79 443.12 481.33 435.62 482.5 432C483.67 428.38 484.71 424.5 485.75 424.5C486.79 424.5 487.83 428.38 488.75 432C489.67 435.62 490.21 441.88 491.25 446.25C492.29 450.62 493.54 454.79 495 458.25C496.46 461.71 498.12 464.79 500 467C501.88 469.21 504.17 470.38 506.25 471.5C508.33 472.62 510.21 473.38 512.5 473.75C514.79 474.12 517.71 473.62 520 473.75C522.29 473.88 524.67 475.62 526.25 474.5C527.83 473.38 528.46 471.17 529.5 467C530.54 462.83 531.83 452.96 532.5 449.5C533.17 446.04 532.88 449.58 533.5 446.25C534.12 442.92 535.25 433.88 536.25 429.5C537.25 425.12 538.46 420 539.5 420C540.54 420 541.58 425.12 542.5 429.5C543.42 433.88 543.96 441.46 545 446.25C546.04 451.04 547.08 454.58 548.75 458.25C550.42 461.92 552.92 465.75 555 468.25C557.08 470.75 559.17 472.42 561.25 473.25C563.33 474.08 565.83 474.5 567.5 473.25C569.17 472 570 467.62 571.25 465.75C572.5 463.88 573.54 462.83 575 462C576.46 461.17 578.75 462 580 460.75C581.25 459.5 581.75 456.92 582.5 454.5C583.25 452.08 583.46 451.67 584.5 446.25C585.54 440.83 587.5 428.54 588.75 422C590 415.46 591.17 409.83 592 407C592.83 404.17 593.04 404.17 593.75 405C594.46 405.83 595.42 407.92 596.25 412C597.08 416.08 597.62 423.79 598.75 429.5C599.88 435.21 601.54 441.67 603 446.25C604.46 450.83 605.92 453.33 607.5 457C609.08 460.67 610.83 465.62 612.5 468.25C614.17 470.88 615.83 472 617.5 472.75C619.17 473.5 620.62 473.21 622.5 472.75C624.38 472.29 626.88 470.75 628.75 470C630.62 469.25 632.29 469.58 633.75 468.25C635.21 466.92 636.25 463.54 637.5 462C638.75 460.46 639.79 459.33 641.25 459C642.71 458.67 645 459.08 646.25 460C647.5 460.92 647.92 462.29 648.75 464.5C649.58 466.71 650.42 470.75 651.25 473.25C652.08 475.75 652.79 478.21 653.75 479.5C654.71 480.79 655.62 480.67 657 481C658.38 481.33 660.04 481.25 662 481.5C663.96 481.75 667 481.75 668.75 482.5C670.5 483.25 671.04 484.96 672.5 486C673.96 487.04 675.62 487.5 677.5 488.75C679.38 490 682.08 492.25 683.75 493.5C685.42 494.75 685.83 496.62 687.5 496.25C689.17 495.88 691.67 492.62 693.75 491.25C695.83 489.88 698.33 488.21 700 488C701.67 487.79 702.71 488.83 703.75 490C704.79 491.17 705.21 493 706.25 495C707.29 497 708.38 500 710 502C711.62 504 713.92 505.75 716 507C718.08 508.25 719.75 509.42 722.5 509.5C725.25 509.58 728.75 507.83 732.5 507.5C736.25 507.17 742.08 507.92 745 507.5C747.92 507.08 748.54 506.67 750 505C751.46 503.33 752.83 498.96 753.75 497.5C754.67 496.04 754.88 494.58 755.5 496.25C756.12 497.92 756.83 501.46 757.5 507.5C758.17 513.54 758.88 525.83 759.5 532.5C760.12 539.17 760.33 545.21 761.25 547.5C762.17 549.79 763.75 546.46 765 546.25C766.25 546.04 767.5 545.21 768.75 546.25C770 547.29 771.38 550.71 772.5 552.5C773.62 554.29 774.46 557.42 775.5 557C776.54 556.58 777.58 554.08 778.75 550C779.92 545.92 781.25 539.58 782.5 532.5C783.75 525.42 785 515 786.25 507.5C787.5 500 788.33 493.75 790 487.5C791.67 481.25 794.58 475.08 796.25 470C797.92 464.92 798.75 460.96 800 457C801.25 453.04 802.71 449.38 803.75 446.25C804.79 443.12 805.42 440 806.25 438.25C807.08 436.5 807.92 435.75 808.75 435.75C809.58 435.75 810.5 436.5 811.25 438.25C812 440 812.42 441.62 813.25 446.25C814.08 450.88 815.33 458.71 816.25 466C817.17 473.29 817.92 480.17 818.75 490C819.58 499.83 820.62 516.04 821.25 525C821.88 533.96 821.96 543.75 822.5 543.75C823.04 543.75 823.88 533.96 824.5 525C825.12 516.04 825.75 499.83 826.25 490C826.75 480.17 827.04 473.29 827.5 466C827.96 458.71 828.38 450.88 829 446.25C829.62 441.62 830.25 440.12 831.25 438.25C832.25 436.38 833.54 435.21 835 435C836.46 434.79 838.33 435.62 840 437C841.67 438.38 843.54 441.38 845 443.25C846.46 445.12 847.5 448.25 848.75 448.25C850 448.25 851.25 445.21 852.5 443.25C853.75 441.29 855.62 437.62 856.25 436.5" stroke="#49a8dc" clip-path="url(#cneg)"/>
</g>
<g fill="none" stroke-width="1.4" stroke-dasharray="4,3" opacity="0.3">
<path d="M55.5 379.6C55.92 379.47 56.62 379.15 58 378.8C59.38 378.45 61.75 376.97 63.75 377.5C65.75 378.03 68.21 379.79 70 382C71.79 384.21 73.25 386.17 74.5 390.75C75.75 395.33 76.58 402.62 77.5 409.5C78.42 416.38 79.29 425.88 80 432C80.71 438.12 81.12 440.42 81.75 446.25C82.38 452.08 83 460.21 83.75 467C84.5 473.79 85.42 481.5 86.25 487C87.08 492.5 87.08 497.5 88.75 500C90.42 502.5 93.96 500.62 96.25 502C98.54 503.38 100.42 506.25 102.5 508.25C104.58 510.25 106.67 514.21 108.75 514C110.83 513.79 112.92 509.33 115 507C117.08 504.67 118.96 501.58 121.25 500C123.54 498.42 126.25 498.42 128.75 497.5C131.25 496.58 133.96 497.08 136.25 494.5C138.54 491.92 140.21 487 142.5 482C144.79 477 148.12 469.08 150 464.5C151.88 459.92 152.71 457.54 153.75 454.5C154.79 451.46 155.21 451.25 156.25 446.25C157.29 441.25 158.75 431.04 160 424.5C161.25 417.96 162.5 411.79 163.75 407C165 402.21 166.25 400.75 167.5 395.75C168.75 390.75 170 383.46 171.25 377C172.5 370.54 173.54 362.42 175 357C176.46 351.58 178.25 348.67 180 344.5C181.75 340.33 183.42 337.75 185.5 332C187.58 326.25 190.5 315.17 192.5 310C194.5 304.83 195.62 302.67 197.5 301C199.38 299.33 202.08 298.5 203.75 300C205.42 301.5 206.33 306.88 207.5 310C208.67 313.12 209.71 318.96 210.75 318.75C211.79 318.54 212.54 311.12 213.75 308.75C214.96 306.38 216.12 304.12 218 304.5C219.88 304.88 223 308.42 225 311C227 313.58 228.67 316.5 230 320C231.33 323.5 231.96 328.33 233 332C234.04 335.67 234.67 339.92 236.25 342C237.83 344.08 240 343.67 242.5 344.5C245 345.33 248.75 346.92 251.25 347C253.75 347.08 255.42 345.92 257.5 345C259.58 344.08 261.67 341.92 263.75 341.5C265.83 341.08 268.54 342.21 270 342.5C271.46 342.79 271.04 342.92 272.5 343.25C273.96 343.58 277.08 345.12 278.75 344.5C280.42 343.88 281.38 340.96 282.5 339.5C283.62 338.04 284.58 334.5 285.5 335.75C286.42 337 287.04 337.21 288 347C288.96 356.79 290.17 380.33 291.25 394.5C292.33 408.67 293.79 423.38 294.5 432C295.21 440.62 295 440.42 295.5 446.25C296 452.08 296.54 460.21 297.5 467C298.46 473.79 300 481.17 301.25 487C302.5 492.83 303.54 498.25 305 502C306.46 505.75 308.12 507.83 310 509.5C311.88 511.17 314.38 511.92 316.25 512C318.12 512.08 319.79 511.67 321.25 510C322.71 508.33 323.96 506.67 325 502C326.04 497.33 326.46 489.08 327.5 482C328.54 474.92 330 464.92 331.25 459.5C332.5 454.08 333.75 451.58 335 449.5C336.25 447.42 337.5 446.58 338.75 447C340 447.42 341.04 449.08 342.5 452C343.96 454.92 345.83 459.92 347.5 464.5C349.17 469.08 350.83 474.5 352.5 479.5C354.17 484.5 356.04 490.54 357.5 494.5C358.96 498.46 360 501.17 361.25 503.25C362.5 505.33 363.75 508.04 365 507C366.25 505.96 367.5 500.12 368.75 497C370 493.88 370.83 490.33 372.5 488.25C374.17 486.17 376.88 484.5 378.75 484.5C380.62 484.5 382.08 486.38 383.75 488.25C385.42 490.12 387.38 494.08 388.75 495.75C390.12 497.42 390.75 498.67 392 498.25C393.25 497.83 394.5 494.5 396.25 493.25C398 492 400.21 490.96 402.5 490.75C404.79 490.54 407.5 491.46 410 492C412.5 492.54 415 493.38 417.5 494C420 494.62 423.12 494.62 425 495.75C426.88 496.88 427.5 499.21 428.75 500.75C430 502.29 431.04 504.79 432.5 505C433.96 505.21 435.42 503.12 437.5 502C439.58 500.88 442.5 498.75 445 498.25C447.5 497.75 450 498.38 452.5 499C455 499.62 457.83 502.96 460 502C462.17 501.04 464.25 494.08 465.5 493.25C466.75 492.42 466.54 493.88 467.5 497C468.46 500.12 470.21 507.5 471.25 512C472.29 516.5 472.62 521.25 473.75 524C474.88 526.75 476.54 527.58 478 528.5C479.46 529.42 480.92 529.67 482.5 529.5C484.08 529.33 486.04 528.42 487.5 527.5C488.96 526.58 490.17 524.83 491.25 524C492.33 523.17 493.04 522.17 494 522.5C494.96 522.83 496 524.08 497 526C498 527.92 497.83 531.75 500 534C502.17 536.25 506.67 539 510 539.5C513.33 540 517.29 537.29 520 537C522.71 536.71 524.58 536.17 526.25 537.75C527.92 539.33 528.62 543.58 530 546.5C531.38 549.42 532.83 553.79 534.5 555.25C536.17 556.71 538.58 557.12 540 555.25C541.42 553.38 541.96 547.96 543 544C544.04 540.04 544.46 534 546.25 531.5C548.04 529 551.88 530.25 553.75 529C555.62 527.75 556.25 525.79 557.5 524C558.75 522.21 559.58 519.42 561.25 518.25C562.92 517.08 565.21 516.79 567.5 517C569.79 517.21 572.08 519.58 575 519.5C577.92 519.42 582.71 518.58 585 516.5C587.29 514.42 587.29 510.96 588.75 507C590.21 503.04 592.38 493.17 593.75 492.75C595.12 492.33 595.96 501.08 597 504.5C598.04 507.92 597.83 511.38 600 513.25C602.17 515.12 606.25 514.92 610 515.75C613.75 516.58 618.33 517.83 622.5 518.25C626.67 518.67 632.42 516.29 635 518.25C637.58 520.21 636.96 525.08 638 530C639.04 534.92 640.08 545.83 641.25 547.75C642.42 549.67 643.96 544.46 645 541.5C646.04 538.54 646.46 535.67 647.5 530C648.54 524.33 650.21 513.33 651.25 507.5C652.29 501.67 652.29 497.29 653.75 495C655.21 492.71 657.5 494.25 660 493.75C662.5 493.25 666.67 491.58 668.75 492C670.83 492.42 670.62 494.71 672.5 496.25C674.38 497.79 677.5 499.46 680 501.25C682.5 503.04 685 505.88 687.5 507C690 508.12 693.12 509.38 695 508C696.88 506.62 697.5 500.17 698.75 498.75C700 497.33 700.83 498.67 702.5 499.5C704.17 500.33 706.67 501.58 708.75 503.75C710.83 505.92 713.12 510.12 715 512.5C716.88 514.88 717.92 517.5 720 518C722.08 518.5 724.79 516 727.5 515.5C730.21 515 733.33 514.67 736.25 515C739.17 515.33 742.29 516.46 745 517.5C747.71 518.54 750.62 519.58 752.5 521.25C754.38 522.92 755.21 522.71 756.25 527.5C757.29 532.29 757.92 543.75 758.75 550C759.58 556.25 760.21 563.12 761.25 565C762.29 566.88 763.75 562.29 765 561.25C766.25 560.21 767.5 558.12 768.75 558.75C770 559.38 771.38 563.21 772.5 565C773.62 566.79 774.46 570.33 775.5 569.5C776.54 568.67 777.58 564.92 778.75 560C779.92 555.08 781.04 547.92 782.5 540C783.96 532.08 785.83 520.83 787.5 512.5C789.17 504.17 790.83 496.67 792.5 490C794.17 483.33 796.17 477.58 797.5 472.5C798.83 467.42 799.42 463.75 800.5 459.5C801.58 455.25 803 450.33 804 447C805 443.67 805.71 441.17 806.5 439.5C807.29 437.83 807.92 437 808.75 437C809.58 437 810.67 437.33 811.5 439.5C812.33 441.67 812.83 443.25 813.75 450C814.67 456.75 815.88 465 817 480C818.12 495 819.5 527.08 820.5 540C821.5 552.92 822.25 557.5 823 557.5C823.75 557.5 824.33 551.25 825 540C825.67 528.75 826.33 505 827 490C827.67 475 828.29 458.42 829 450C829.71 441.58 830.25 441.83 831.25 439.5C832.25 437.17 833.54 436.25 835 436C836.46 435.75 838.33 436.67 840 438C841.67 439.33 843.54 442.17 845 444C846.46 445.83 847.5 449 848.75 449C850 449 851.25 445.92 852.5 444C853.75 442.08 855.62 438.58 856.25 437.5" stroke="#3c1717" clip-path="url(#cpos)"/>
<path d="M55.5 379.6C55.92 379.47 56.62 379.15 58 378.8C59.38 378.45 61.75 376.97 63.75 377.5C65.75 378.03 68.21 379.79 70 382C71.79 384.21 73.25 386.17 74.5 390.75C75.75 395.33 76.58 402.62 77.5 409.5C78.42 416.38 79.29 425.88 80 432C80.71 438.12 81.12 440.42 81.75 446.25C82.38 452.08 83 460.21 83.75 467C84.5 473.79 85.42 481.5 86.25 487C87.08 492.5 87.08 497.5 88.75 500C90.42 502.5 93.96 500.62 96.25 502C98.54 503.38 100.42 506.25 102.5 508.25C104.58 510.25 106.67 514.21 108.75 514C110.83 513.79 112.92 509.33 115 507C117.08 504.67 118.96 501.58 121.25 500C123.54 498.42 126.25 498.42 128.75 497.5C131.25 496.58 133.96 497.08 136.25 494.5C138.54 491.92 140.21 487 142.5 482C144.79 477 148.12 469.08 150 464.5C151.88 459.92 152.71 457.54 153.75 454.5C154.79 451.46 155.21 451.25 156.25 446.25C157.29 441.25 158.75 431.04 160 424.5C161.25 417.96 162.5 411.79 163.75 407C165 402.21 166.25 400.75 167.5 395.75C168.75 390.75 170 383.46 171.25 377C172.5 370.54 173.54 362.42 175 357C176.46 351.58 178.25 348.67 180 344.5C181.75 340.33 183.42 337.75 185.5 332C187.58 326.25 190.5 315.17 192.5 310C194.5 304.83 195.62 302.67 197.5 301C199.38 299.33 202.08 298.5 203.75 300C205.42 301.5 206.33 306.88 207.5 310C208.67 313.12 209.71 318.96 210.75 318.75C211.79 318.54 212.54 311.12 213.75 308.75C214.96 306.38 216.12 304.12 218 304.5C219.88 304.88 223 308.42 225 311C227 313.58 228.67 316.5 230 320C231.33 323.5 231.96 328.33 233 332C234.04 335.67 234.67 339.92 236.25 342C237.83 344.08 240 343.67 242.5 344.5C245 345.33 248.75 346.92 251.25 347C253.75 347.08 255.42 345.92 257.5 345C259.58 344.08 261.67 341.92 263.75 341.5C265.83 341.08 268.54 342.21 270 342.5C271.46 342.79 271.04 342.92 272.5 343.25C273.96 343.58 277.08 345.12 278.75 344.5C280.42 343.88 281.38 340.96 282.5 339.5C283.62 338.04 284.58 334.5 285.5 335.75C286.42 337 287.04 337.21 288 347C288.96 356.79 290.17 380.33 291.25 394.5C292.33 408.67 293.79 423.38 294.5 432C295.21 440.62 295 440.42 295.5 446.25C296 452.08 296.54 460.21 297.5 467C298.46 473.79 300 481.17 301.25 487C302.5 492.83 303.54 498.25 305 502C306.46 505.75 308.12 507.83 310 509.5C311.88 511.17 314.38 511.92 316.25 512C318.12 512.08 319.79 511.67 321.25 510C322.71 508.33 323.96 506.67 325 502C326.04 497.33 326.46 489.08 327.5 482C328.54 474.92 330 464.92 331.25 459.5C332.5 454.08 333.75 451.58 335 449.5C336.25 447.42 337.5 446.58 338.75 447C340 447.42 341.04 449.08 342.5 452C343.96 454.92 345.83 459.92 347.5 464.5C349.17 469.08 350.83 474.5 352.5 479.5C354.17 484.5 356.04 490.54 357.5 494.5C358.96 498.46 360 501.17 361.25 503.25C362.5 505.33 363.75 508.04 365 507C366.25 505.96 367.5 500.12 368.75 497C370 493.88 370.83 490.33 372.5 488.25C374.17 486.17 376.88 484.5 378.75 484.5C380.62 484.5 382.08 486.38 383.75 488.25C385.42 490.12 387.38 494.08 388.75 495.75C390.12 497.42 390.75 498.67 392 498.25C393.25 497.83 394.5 494.5 396.25 493.25C398 492 400.21 490.96 402.5 490.75C404.79 490.54 407.5 491.46 410 492C412.5 492.54 415 493.38 417.5 494C420 494.62 423.12 494.62 425 495.75C426.88 496.88 427.5 499.21 428.75 500.75C430 502.29 431.04 504.79 432.5 505C433.96 505.21 435.42 503.12 437.5 502C439.58 500.88 442.5 498.75 445 498.25C447.5 497.75 450 498.38 452.5 499C455 499.62 457.83 502.96 460 502C462.17 501.04 464.25 494.08 465.5 493.25C466.75 492.42 466.54 493.88 467.5 497C468.46 500.12 470.21 507.5 471.25 512C472.29 516.5 472.62 521.25 473.75 524C474.88 526.75 476.54 527.58 478 528.5C479.46 529.42 480.92 529.67 482.5 529.5C484.08 529.33 486.04 528.42 487.5 527.5C488.96 526.58 490.17 524.83 491.25 524C492.33 523.17 493.04 522.17 494 522.5C494.96 522.83 496 524.08 497 526C498 527.92 497.83 531.75 500 534C502.17 536.25 506.67 539 510 539.5C513.33 540 517.29 537.29 520 537C522.71 536.71 524.58 536.17 526.25 537.75C527.92 539.33 528.62 543.58 530 546.5C531.38 549.42 532.83 553.79 534.5 555.25C536.17 556.71 538.58 557.12 540 555.25C541.42 553.38 541.96 547.96 543 544C544.04 540.04 544.46 534 546.25 531.5C548.04 529 551.88 530.25 553.75 529C555.62 527.75 556.25 525.79 557.5 524C558.75 522.21 559.58 519.42 561.25 518.25C562.92 517.08 565.21 516.79 567.5 517C569.79 517.21 572.08 519.58 575 519.5C577.92 519.42 582.71 518.58 585 516.5C587.29 514.42 587.29 510.96 588.75 507C590.21 503.04 592.38 493.17 593.75 492.75C595.12 492.33 595.96 501.08 597 504.5C598.04 507.92 597.83 511.38 600 513.25C602.17 515.12 606.25 514.92 610 515.75C613.75 516.58 618.33 517.83 622.5 518.25C626.67 518.67 632.42 516.29 635 518.25C637.58 520.21 636.96 525.08 638 530C639.04 534.92 640.08 545.83 641.25 547.75C642.42 549.67 643.96 544.46 645 541.5C646.04 538.54 646.46 535.67 647.5 530C648.54 524.33 650.21 513.33 651.25 507.5C652.29 501.67 652.29 497.29 653.75 495C655.21 492.71 657.5 494.25 660 493.75C662.5 493.25 666.67 491.58 668.75 492C670.83 492.42 670.62 494.71 672.5 496.25C674.38 497.79 677.5 499.46 680 501.25C682.5 503.04 685 505.88 687.5 507C690 508.12 693.12 509.38 695 508C696.88 506.62 697.5 500.17 698.75 498.75C700 497.33 700.83 498.67 702.5 499.5C704.17 500.33 706.67 501.58 708.75 503.75C710.83 505.92 713.12 510.12 715 512.5C716.88 514.88 717.92 517.5 720 518C722.08 518.5 724.79 516 727.5 515.5C730.21 515 733.33 514.67 736.25 515C739.17 515.33 742.29 516.46 745 517.5C747.71 518.54 750.62 519.58 752.5 521.25C754.38 522.92 755.21 522.71 756.25 527.5C757.29 532.29 757.92 543.75 758.75 550C759.58 556.25 760.21 563.12 761.25 565C762.29 566.88 763.75 562.29 765 561.25C766.25 560.21 767.5 558.12 768.75 558.75C770 559.38 771.38 563.21 772.5 565C773.62 566.79 774.46 570.33 775.5 569.5C776.54 568.67 777.58 564.92 778.75 560C779.92 555.08 781.04 547.92 782.5 540C783.96 532.08 785.83 520.83 787.5 512.5C789.17 504.17 790.83 496.67 792.5 490C794.17 483.33 796.17 477.58 797.5 472.5C798.83 467.42 799.42 463.75 800.5 459.5C801.58 455.25 803 450.33 804 447C805 443.67 805.71 441.17 806.5 439.5C807.29 437.83 807.92 437 808.75 437C809.58 437 810.67 437.33 811.5 439.5C812.33 441.67 812.83 443.25 813.75 450C814.67 456.75 815.88 465 817 480C818.12 495 819.5 527.08 820.5 540C821.5 552.92 822.25 557.5 823 557.5C823.75 557.5 824.33 551.25 825 540C825.67 528.75 826.33 505 827 490C827.67 475 828.29 458.42 829 450C829.71 441.58 830.25 441.83 831.25 439.5C832.25 437.17 833.54 436.25 835 436C836.46 435.75 838.33 436.67 840 438C841.67 439.33 843.54 442.17 845 444C846.46 445.83 847.5 449 848.75 449C850 449 851.25 445.92 852.5 444C853.75 442.08 855.62 438.58 856.25 437.5" stroke="#a2afc0" clip-path="url(#cneg)"/>
</g>
<g font-family="'DejaVu Sans Condensed','DejaVu Sans','Liberation Sans',sans-serif" font-weight="bold" font-size="12" text-anchor="middle" fill="#000000" stroke="#ffffff" stroke-width="3.4" stroke-linejoin="round" paint-order="stroke">
<text x="76" y="631">0.3</text>
<text x="155.25" y="642">0.1</text>
<text x="195.25" y="645">0.1</text>
<text x="290.4" y="206.25">8.6</text>
<text x="296.7" y="510">2.7</text>
<text x="283" y="628.5">0.4</text>
<text x="304.6" y="612.75">0.7</text>
<text x="336.5" y="542.75">2.1</text>
<text x="344.4" y="603.5">0.9</text>
<text x="330.6" y="624.75">0.4</text>
<text x="349.75" y="645.25">0.1</text>
<text x="660.75" y="487">3.1</text>
<text x="667" y="507">2.8</text>
<text x="714" y="510.5">2.7</text>
<text x="680.5" y="554.5">1.8</text>
<text x="734.25" y="548.25">1.9</text>
<text x="654.6" y="574.5">1.4</text>
<text x="686.75" y="583.75">1.3</text>
<text x="708" y="583.75">1.3</text>
<text x="700.4" y="610">0.8</text>
<text x="740.4" y="616.25">0.6</text>
<text x="647" y="645.5">0.1</text>
<text x="788" y="639.25">0.2</text>
</g>
<g stroke="#000000" stroke-width="1.6" fill="none" stroke-linejoin="miter" stroke-linecap="butt">
<path transform="translate(68.03 683.35) rotate(338.3) scale(1.5)" d="M0 7L-1.5 7 0 10 1.5 7 0 7 0 -10L7 -10"/>
<path transform="translate(88.37 683.1) rotate(305.4) scale(1.5)" d="M0 7L-1.5 7 0 10 1.5 7 0 7 0 -10L7 -10"/>
<path transform="translate(108.28 683.08) rotate(308) scale(1.5)" d="M0 7L-1.5 7 0 10 1.5 7 0 7 0 -10L7 -10"/>
<path transform="translate(128.52 682.83) rotate(228.7) scale(1.5)" d="M0 7L-1.5 7 0 10 1.5 7 0 7 0 -10"/>
<path transform="translate(149.06 683.08) rotate(136.2) scale(1.5)" d="M0 7L-1.5 7 0 10 1.5 7 0 7 0 -10M0 -8L4 -8"/>
<path transform="translate(168.85 683.65) rotate(132.4) scale(1.5)" d="M0 7L-1.5 7 0 10 1.5 7 0 7 0 -10M0 -8L4 -8"/>
<path transform="translate(189.31 682.95) rotate(210) scale(1.5)" d="M0 7L-1.5 7 0 10 1.5 7 0 7 0 -10M0 -8L4 -8"/>
<path transform="translate(209.48 683.08) rotate(216.4) scale(1.5)" d="M0 7L-1.5 7 0 10 1.5 7 0 7 0 -10L7 -10M0 -7L4 -7"/>
<path transform="translate(230.02 682.83) rotate(315.4) scale(1.5)" d="M0 7L-1.5 7 0 10 1.5 7 0 7 0 -10M0 -8L4 -8"/>
<path transform="translate(249.71 683.15) rotate(165.5) scale(1.5)" d="M0 7L-1.5 7 0 10 1.5 7 0 7 0 -10L7 -10"/>
<path transform="translate(270.05 682.8) rotate(180) scale(1.5)" d="M0 7L-1.5 7 0 10 1.5 7 0 7 0 -10L7 -10M0 -7L4 -7"/>
<path transform="translate(290.04 683.27) rotate(222.5) scale(1.5)" d="M0 7L-1.5 7 0 10 1.5 7 0 7 0 -10L7 -10"/>
<path transform="translate(310.2 683.38) rotate(33.2) scale(1.5)" d="M0 7L-1.5 7 0 10 1.5 7 0 7 0 -10L7 -10M0 -7L4 -7"/>
<path transform="translate(330.19 683.35) rotate(6) scale(1.5)" d="M0 7L-1.5 7 0 10 1.5 7 0 7 0 -10L7 -10"/>
<path transform="translate(350.91 683.38) rotate(326.2) scale(1.5)" d="M0 7L-1.5 7 0 10 1.5 7 0 7 0 -10M0 -8L4 -8"/>
<path transform="translate(371.25 683.22) rotate(278.3) scale(1.5)" d="M0 7L-1.5 7 0 10 1.5 7 0 7 0 -10M0 -8L4 -8"/>
<path transform="translate(391.16 683.15) rotate(280.9) scale(1.5)" d="M0 7L-1.5 7 0 10 1.5 7 0 7 0 -10M0 -8L4 -8"/>
<path transform="translate(410.78 682.88) rotate(128.2) scale(1.5)" d="M0 7L-1.5 7 0 10 1.5 7 0 7 0 -10M0 -8L4 -8"/>
<path transform="translate(430.89 683.35) rotate(80.7) scale(1.5)" d="M0 7L-1.5 7 0 10 1.5 7 0 7 0 -10M0 -8L4 -8"/>
<path transform="translate(451.03 683.7) rotate(51.6) scale(1.5)" d="M0 7L-1.5 7 0 10 1.5 7 0 7 0 -10M0 -8L4 -8"/>
<path transform="translate(471.38 683.55) rotate(30) scale(1.5)" d="M0 7L-1.5 7 0 10 1.5 7 0 7 0 -10L7 -10"/>
<path transform="translate(491.54 684.2) rotate(9.7) scale(1.5)" d="M0 7L-1.5 7 0 10 1.5 7 0 7 0 -10M0 -8L4 -8"/>
<path transform="translate(511.83 684.12) rotate(0) scale(1.5)" d="M0 7L-1.5 7 0 10 1.5 7 0 7 0 -10M0 -8L4 -8"/>
<path transform="translate(532.32 683.35) rotate(303.3) scale(1.5)" d="M0 7L-1.5 7 0 10 1.5 7 0 7 0 -10"/>
<path transform="translate(552.81 683.38) rotate(282.35) scale(1.5)" d="M0 7L-1.5 7 0 10 1.5 7 0 7 0 -10M0 -8L4 -8"/>
<path transform="translate(573.05 683.3) rotate(275.5) scale(1.5)" d="M0 7L-1.5 7 0 10 1.5 7 0 7 0 -10M0 -8L4 -8"/>
<path transform="translate(592.71 682.95) rotate(157.6) scale(1.5)" d="M0 7L-1.5 7 0 10 1.5 7 0 7 0 -10L7 -10"/>
<path transform="translate(613.58 683.77) rotate(309.6) scale(1.5)" d="M0 7L-1.5 7 0 10 1.5 7 0 7 0 -10M0 -8L4 -8"/>
<path transform="translate(633.07 683.8) rotate(289.7) scale(1.5)" d="M0 7L-1.5 7 0 10 1.5 7 0 7 0 -10"/>
<path transform="translate(653.18 683.25) rotate(60.9) scale(1.5)" d="M0 7L-1.5 7 0 10 1.5 7 0 7 0 -10L7 -10"/>
<path transform="translate(673.2 683.58) rotate(46.1) scale(1.5)" d="M0 7L-1.5 7 0 10 1.5 7 0 7 0 -10L7 -10M0 -7L4 -7"/>
<path transform="translate(693.32 683.45) rotate(42.4) scale(1.5)" d="M0 7L-1.5 7 0 10 1.5 7 0 7 0 -10L7 -10M0 -7L4 -7"/>
<path transform="translate(713.63 683.47) rotate(27.1) scale(1.5)" d="M0 7L-1.5 7 0 10 1.5 7 0 7 0 -10L7 -10"/>
<path transform="translate(733.94 683.6) rotate(11.9) scale(1.5)" d="M0 7L-1.5 7 0 10 1.5 7 0 7 0 -10L7 -10"/>
<path transform="translate(754.46 683.1) rotate(279.2) scale(1.5)" d="M0 7L-1.5 7 0 10 1.5 7 0 7 0 -10M0 -8L4 -8"/>
<path transform="translate(774.67 683.25) rotate(249.3) scale(1.5)" d="M0 7L-1.5 7 0 10 1.5 7 0 7 0 -10"/>
<path transform="translate(794.32 683.38) rotate(111.2) scale(1.5)" d="M0 7L-1.5 7 0 10 1.5 7 0 7 0 -10L7 -10"/>
<path transform="translate(814.63 683.08) rotate(135.4) scale(1.5)" d="M0 7L-1.5 7 0 10 1.5 7 0 7 0 -10L7 -10"/>
<path transform="translate(834.97 682.95) rotate(186.1) scale(1.5)" d="M0 7L-1.5 7 0 10 1.5 7 0 7 0 -10"/>
<path transform="translate(855.09 682.52) rotate(157.7) scale(1.5)" d="M0 7L-1.5 7 0 10 1.5 7 0 7 0 -10M0 -8L4 -8"/>
</g>
<text y="30.5" font-size="28" fill="#333333"><tspan x="251.62" textLength="48.46" lengthAdjust="spacingAndGlyphs">GFS</tspan> <tspan x="308.57" textLength="75.58" lengthAdjust="spacingAndGlyphs">Siklós</tspan> <tspan x="394.17" textLength="57.99" lengthAdjust="spacingAndGlyphs">(HU)</tspan> <tspan x="460.73" textLength="107.23" lengthAdjust="spacingAndGlyphs">45.75N,</tspan> <tspan x="577.55" textLength="92.85" lengthAdjust="spacingAndGlyphs">18.25E</tspan></text>
<text y="53.6" font-size="18" fill="#666666"><tspan x="284.89" textLength="35.31" lengthAdjust="spacingAndGlyphs">Init:</tspan> <tspan x="327.91" textLength="36.93" lengthAdjust="spacingAndGlyphs">Tue,</tspan> <tspan x="372.41" textLength="102.53" lengthAdjust="spacingAndGlyphs">28Nov2023</tspan> <tspan x="484.44" textLength="30.45" lengthAdjust="spacingAndGlyphs">12Z</tspan> <tspan x="522.41" textLength="51.33" lengthAdjust="spacingAndGlyphs">07:07</tspan> <tspan x="583.41" textLength="51.22" lengthAdjust="spacingAndGlyphs">16:02</tspan></text>
<g font-size="16" fill="#555555">
<text transform="translate(84.3 124.5) rotate(-45)" textLength="104.17" lengthAdjust="spacingAndGlyphs"><tspan font-weight="bold">Wed</tspan> Nov 29</text>
<text transform="translate(138.12 124.5) rotate(-45)" textLength="98.32" lengthAdjust="spacingAndGlyphs"><tspan font-weight="bold">Thu</tspan> Nov 30</text>
<text transform="translate(191.94 124.5) rotate(-45)" textLength="76.83" lengthAdjust="spacingAndGlyphs"><tspan font-weight="bold">Fri</tspan> Dec 1</text>
<text transform="translate(245.76 124.5) rotate(-45)" textLength="83.72" lengthAdjust="spacingAndGlyphs"><tspan font-weight="bold">Sat</tspan> Dec 2</text>
<text transform="translate(299.58 124.5) rotate(-45)" textLength="88.19" lengthAdjust="spacingAndGlyphs"><tspan font-weight="bold">Sun</tspan> Dec 3</text>
<text transform="translate(353.4 124.5) rotate(-45)" textLength="92.31" lengthAdjust="spacingAndGlyphs"><tspan font-weight="bold">Mon</tspan> Dec 4</text>
<text transform="translate(407.22 124.5) rotate(-45)" textLength="85.19" lengthAdjust="spacingAndGlyphs"><tspan font-weight="bold">Tue</tspan> Dec 5</text>
<text transform="translate(461.04 124.5) rotate(-45)" textLength="93.42" lengthAdjust="spacingAndGlyphs"><tspan font-weight="bold">Wed</tspan> Dec 6</text>
<text transform="translate(514.86 124.5) rotate(-45)" textLength="87.56" lengthAdjust="spacingAndGlyphs"><tspan font-weight="bold">Thu</tspan> Dec 7</text>
<text transform="translate(568.68 124.5) rotate(-45)" textLength="76.83" lengthAdjust="spacingAndGlyphs"><tspan font-weight="bold">Fri</tspan> Dec 8</text>
<text transform="translate(622.5 124.5) rotate(-45)" textLength="83.72" lengthAdjust="spacingAndGlyphs"><tspan font-weight="bold">Sat</tspan> Dec 9</text>
<text transform="translate(676.32 124.5) rotate(-45)" textLength="98.67" lengthAdjust="spacingAndGlyphs"><tspan font-weight="bold">Sun</tspan> Dec 10</text>
<text transform="translate(730.14 124.5) rotate(-45)" textLength="102.79" lengthAdjust="spacingAndGlyphs"><tspan font-weight="bold">Mon</tspan> Dec 11</text>
<text transform="translate(783.96 124.5) rotate(-45)" textLength="95.68" lengthAdjust="spacingAndGlyphs"><tspan font-weight="bold">Tue</tspan> Dec 12</text>
<text transform="translate(837.78 124.5) rotate(-45)" textLength="103.9" lengthAdjust="spacingAndGlyphs"><tspan font-weight="bold">Wed</tspan> Dec 13</text>
</g>
<g font-size="14.6" fill="#666666" text-anchor="end">
<text x="47.9" y="162.8">20°</text>
<text x="47.9" y="234.25">15°</text>
<text x="47.9" y="305.7">10°</text>
<text x="47.9" y="377.15">5°</text>
<text x="47.9" y="448.6">0°</text>
<text x="47.9" y="520.05"><tspan textLength="9.6" lengthAdjust="spacingAndGlyphs">−</tspan>5°</text>
<text x="47.9" y="591.5"><tspan textLength="9.6" lengthAdjust="spacingAndGlyphs">−</tspan>10°</text>
<text x="47.9" y="662.95"><tspan textLength="9.6" lengthAdjust="spacingAndGlyphs">−</tspan>15°</text>
</g>
<g font-size="15" fill="#666666" text-anchor="start">
<text x="883.3" y="666.4">0</text>
<text x="883.3" y="562.96">2</text>
<text x="883.3" y="459.52">4</text>
<text x="883.3" y="356.08">6</text>
<text x="883.3" y="252.64">8</text>
<text x="883.3" y="149.2">10</text>
</g>
<text y="0" font-size="17" fill="#666666" transform="translate(909.4 0) rotate(90)"><tspan x="321.87" textLength="109.12" lengthAdjust="spacingAndGlyphs">Precipitation</tspan> <tspan x="438.18" textLength="52.13" lengthAdjust="spacingAndGlyphs">(mm)</tspan></text>
<g font-size="16" fill="#666666" text-anchor="middle">
<text x="76" y="735.5">00</text>
<text x="102.91" y="735.5">12</text>
<text x="129.82" y="735.5">00</text>
<text x="156.73" y="735.5">12</text>
<text x="183.64" y="735.5">00</text>
<text x="210.55" y="735.5">12</text>
<text x="237.46" y="735.5">00</text>
<text x="264.37" y="735.5">12</text>
<text x="291.28" y="735.5">00</text>
<text x="318.19" y="735.5">12</text>
<text x="345.1" y="735.5">00</text>
<text x="372.01" y="735.5">12</text>
<text x="398.92" y="735.5">00</text>
<text x="425.83" y="735.5">12</text>
<text x="452.74" y="735.5">00</text>
<text x="479.65" y="735.5">12</text>
<text x="506.56" y="735.5">00</text>
<text x="533.47" y="735.5">12</text>
<text x="560.38" y="735.5">00</text>
<text x="587.29" y="735.5">12</text>
<text x="614.2" y="735.5">00</text>
<text x="641.11" y="735.5">12</text>
<text x="668.02" y="735.5">00</text>
<text x="694.93" y="735.5">12</text>
<text x="721.84" y="735.5">00</text>
<text x="748.75" y="735.5">12</text>
<text x="775.66" y="735.5">00</text>
<text x="802.57" y="735.5">12</text>
<text x="829.48" y="735.5">00</text>
</g>
<text y="765.6" font-size="17" fill="#666666"><tspan x="368.8" textLength="44.02" lengthAdjust="spacingAndGlyphs">Local</tspan> <tspan x="421.9" textLength="36.23" lengthAdjust="spacingAndGlyphs">time</tspan> <tspan x="465.34" textLength="76.64" lengthAdjust="spacingAndGlyphs">(UTC+1)</tspan></text>
<text y="759.6" font-size="13" fill="#999999"><tspan x="740" textLength="119" lengthAdjust="spacingAndGlyphs">wetterzentrale.de</tspan></text>
</svg></body></html>
